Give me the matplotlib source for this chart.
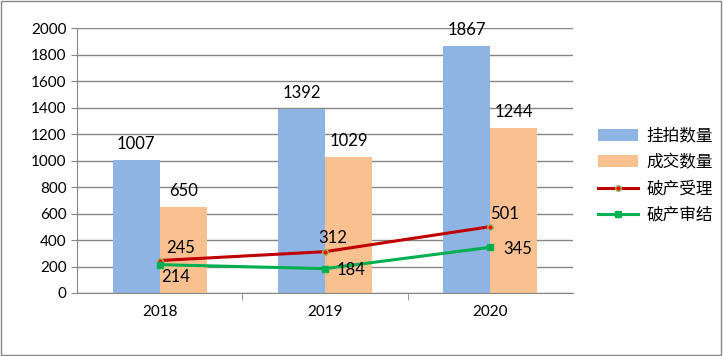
import numpy as np
import matplotlib.pyplot as plt
from matplotlib.patches import Rectangle

plt.rcParams['font.family'] = ['Lato', 'Noto Sans CJK SC', 'DejaVu Sans']

years = ['2018', '2019', '2020']
listed = [1007, 1392, 1867]
deals = [650, 1029, 1244]
accepted = [245, 312, 501]
concluded = [214, 184, 345]

x = np.arange(len(years))
w = 0.285

fig = plt.figure(figsize=(7.23, 3.56), dpi=100)
ax = fig.add_axes([0.1065, 0.177, 0.686, 0.744])

b1 = ax.bar(x - w / 2, listed, w, color='#8eb4e3', label='挂拍数量', zorder=2)
b2 = ax.bar(x + w / 2, deals, w, color='#fac090', label='成交数量', zorder=2)
l1, = ax.plot(x, accepted, color='#c00000', lw=2.2, marker='o', ms=4,
              mfc='#ff0000', mec='#9bbb59', label='破产受理', zorder=3)
l2, = ax.plot(x, concluded, color='#00b050', lw=2.2, marker='s', ms=5,
              label='破产审结', zorder=3)

for i in x:
    ax.text(i - w / 2, listed[i] + 60, str(listed[i]), ha='center', va='bottom', fontsize=12)
    ax.text(i + w / 2, deals[i] + 60, str(deals[i]), ha='center', va='bottom', fontsize=12)

# line labels, placed like the original
ax.annotate(str(accepted[0]), (x[0], accepted[0]), xytext=(5, 3), textcoords='offset points',
            ha='left', va='bottom', fontsize=12)
ax.annotate(str(concluded[0]), (x[0], concluded[0]), xytext=(1, -3), textcoords='offset points',
            ha='left', va='top', fontsize=12)
ax.annotate(str(accepted[1]), (x[1], accepted[1]), xytext=(-5, 4), textcoords='offset points',
            ha='left', va='bottom', fontsize=12)
ax.annotate(str(concluded[1]), (x[1], concluded[1]), xytext=(8, -1), textcoords='offset points',
            ha='left', va='center', fontsize=12)
ax.annotate(str(accepted[2]), (x[2], accepted[2]), xytext=(0, 3), textcoords='offset points',
            ha='left', va='bottom', fontsize=12)
ax.annotate(str(concluded[2]), (x[2], concluded[2]), xytext=(9, -1), textcoords='offset points',
            ha='left', va='center', fontsize=12)

ax.set_xlim(-0.5, 2.5)
ax.set_ylim(0, 2000)
ax.set_yticks(range(0, 2001, 200))
ax.set_xticks(x)
ax.set_xticklabels(years)
ax.set_xticks([0.5, 1.5], minor=True)
ax.tick_params(axis='x', which='major', length=0, pad=9, labelsize=11)
ax.tick_params(axis='x', which='minor', length=5, color='#868686')
ax.tick_params(axis='y', length=4, color='#868686', labelsize=11)
ax.grid(axis='y', color='#868686', lw=1, zorder=0)
for s in ['top', 'right']:
    ax.spines[s].set_visible(False)
ax.spines['left'].set_color('#868686')
ax.spines['bottom'].set_color('#868686')

ax.legend([b1, b2, l1, l2], ['挂拍数量', '成交数量', '破产受理', '破产审结'],
          loc='center left', bbox_to_anchor=(1.02, 0.445), frameon=False,
          fontsize=12, handlelength=2.4, labelspacing=0.62, handletextpad=0.5)

fig.patches.append(Rectangle((0.002, 0.003), 0.995, 0.993, transform=fig.transFigure,
                             fill=False, ec='#868686', lw=1))

fig.savefig('out.png', dpi=100)
